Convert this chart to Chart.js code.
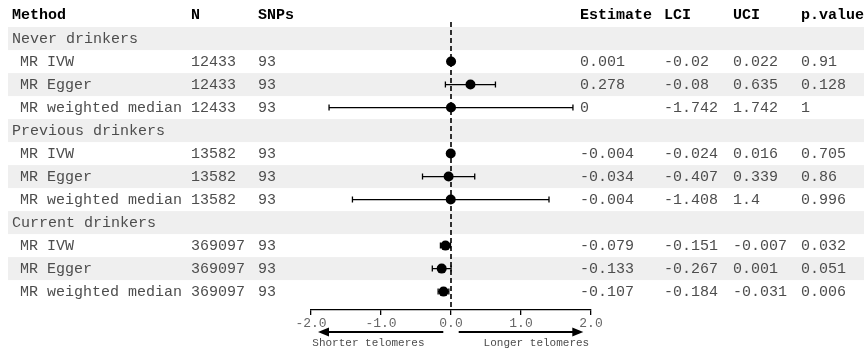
<!DOCTYPE html>
<html>
<head>
<meta charset="utf-8">
<script src="https://cdn.jsdelivr.net/npm/chart.js@4"></script>
<style>
  body { margin: 0; background: #fff; }
  #wrap { width: 864px; height: 351px; }
</style>
</head>
<body>
<div id="wrap"><canvas id="forest" width="864" height="351"></canvas></div>
<script>
// data
const groups = ['Never drinkers', 'Previous drinkers', 'Current drinkers'];
const methods = ['MR IVW', 'MR Egger', 'MR weighted median'];
const sampleN = [12433, 13582, 369097];
const snps = [93, 93, 93];
const estimate = [0.001, 0.278, 0, -0.004, -0.034, -0.004, -0.079, -0.133, -0.107];
const lci = [-0.02, -0.08, -1.742, -0.024, -0.407, -1.408, -0.151, -0.267, -0.184];
const uci = [0.022, 0.635, 1.742, 0.016, 0.339, 1.4, -0.007, 0.001, -0.031];
const pValue = [0.91, 0.128, 1, 0.705, 0.86, 0.996, 0.032, 0.051, 0.006];
const xTicks = [-2, -1, 0, 1, 2];
const headers = ['Method', 'N', 'SNPs', 'Estimate', 'LCI', 'UCI', 'p.value'];
const arrowLabels = ['Shorter telomeres', 'Longer telomeres'];

// row index for each estimate: group header row then 3 method rows
function rowOf(i) {
    let g = Math.floor(i / 3);
    return g * 4 + 1 + (i % 3);
}

const points = estimate.map((e, i) => ({ x: e, y: rowOf(i) }));

const colX = [12, 191, 258, 580, 664, 733, 801];
const mono = '"Liberation Mono", "DejaVu Sans Mono", monospace';
const textColor = '#4d4d4d';

// grey stripes behind every second row
const stripes = {
    id: 'stripes',
    beforeDraw(chart) {
        const ctx = chart.ctx;
        const y = chart.scales.y;
        const total = groups.length * 4;
        ctx.save();
        ctx.fillStyle = '#efefef';
        for (let r = 0; r < total; r += 2) {
            let top = y.getPixelForValue(r - 0.5);
            let bottom = y.getPixelForValue(r + 0.5);
            ctx.fillRect(8, top, chart.width - 8, bottom - top);
        }
        ctx.restore();
    }
};

// zero line and confidence intervals under the points
const whiskers = {
    id: 'whiskers',
    beforeDatasetsDraw(chart) {
        const ctx = chart.ctx;
        const x = chart.scales.x;
        const y = chart.scales.y;
        const area = chart.chartArea;
        ctx.save();
        ctx.strokeStyle = '#000';
        ctx.lineWidth = 1.6;
        ctx.setLineDash([5, 3]);
        ctx.beginPath();
        ctx.moveTo(x.getPixelForValue(0), area.top);
        ctx.lineTo(x.getPixelForValue(0), area.bottom);
        ctx.stroke();
        ctx.setLineDash([]);
        ctx.lineWidth = 1.3;
        estimate.forEach((e, i) => {
            let py = y.getPixelForValue(rowOf(i));
            let x1 = x.getPixelForValue(lci[i]);
            let x2 = x.getPixelForValue(uci[i]);
            ctx.beginPath();
            ctx.moveTo(x1, py);
            ctx.lineTo(x2, py);
            ctx.moveTo(x1, py - 3);
            ctx.lineTo(x1, py + 3);
            ctx.moveTo(x2, py - 3);
            ctx.lineTo(x2, py + 3);
            ctx.stroke();
        });
        ctx.restore();
    }
};

// table text and arrows under the axis
const table = {
    id: 'table',
    afterDraw(chart) {
        const ctx = chart.ctx;
        const x = chart.scales.x;
        const y = chart.scales.y;
        ctx.save();
        ctx.textBaseline = 'middle';
        ctx.textAlign = 'left';

        ctx.fillStyle = '#000';
        ctx.font = 'bold 15px ' + mono;
        headers.forEach((h, c) => ctx.fillText(h, colX[c], y.getPixelForValue(-1)));

        ctx.font = '15px ' + mono;
        ctx.fillStyle = textColor;
        groups.forEach((g, gi) => {
            ctx.fillText(g, colX[0], y.getPixelForValue(gi * 4));
        });
        estimate.forEach((e, i) => {
            let py = y.getPixelForValue(rowOf(i));
            let g = Math.floor(i / 3);
            ctx.fillText(methods[i % 3], colX[0] + 8, py);
            ctx.fillText(String(sampleN[g]), colX[1], py);
            ctx.fillText(String(snps[g]), colX[2], py);
            ctx.fillText(String(e), colX[3], py);
            ctx.fillText(String(lci[i]), colX[4], py);
            ctx.fillText(String(uci[i]), colX[5], py);
            ctx.fillText(String(pValue[i]), colX[6], py);
        });

        // direction arrows
        const ay = 332;
        ctx.strokeStyle = '#000';
        ctx.fillStyle = '#000';
        ctx.lineWidth = 2;
        function arrow(from, to) {
            let a = x.getPixelForValue(from);
            let b = x.getPixelForValue(to);
            let dir = Math.sign(b - a);
            ctx.beginPath();
            ctx.moveTo(a, ay);
            ctx.lineTo(b - dir * 8, ay);
            ctx.stroke();
            ctx.beginPath();
            ctx.moveTo(b, ay);
            ctx.lineTo(b - dir * 11, ay - 4.5);
            ctx.lineTo(b - dir * 11, ay + 4.5);
            ctx.closePath();
            ctx.fill();
        }
        arrow(-0.11, -1.9);
        arrow(0.11, 1.89);

        ctx.font = '11px ' + mono;
        ctx.fillStyle = textColor;
        ctx.textAlign = 'center';
        ctx.fillText(arrowLabels[0], x.getPixelForValue(-1.18), 343);
        ctx.fillText(arrowLabels[1], x.getPixelForValue(1.22), 343);
        ctx.restore();
    }
};

new Chart(
    document.getElementById('forest'),
    {
    type: 'scatter',
    data: {
        datasets: [{
            data: points,
            pointRadius: 5,
            pointHoverRadius: 5,
            backgroundColor: '#000',
            borderColor: '#000',
            borderWidth: 0
        }]
    },
    options: {
        responsive: false,
        animation: false,
        layout: {
            padding: { left: 311, right: 273, top: 22, bottom: 0 }
        },
        scales: {
            x: {
                type: 'linear',
                min: -2,
                max: 2,
                afterBuildTicks: (scale) => {
                    scale.ticks = xTicks.map(v => ({ value: v }));
                },
                afterFit: (scale) => {
                    scale.height = 41;
                },
                ticks: {
                    color: '#666',
                    padding: 1,
                    maxRotation: 0,
                    font: { family: mono, size: 13 },
                    callback: (v) => Number(v).toFixed(1)
                },
                grid: {
                    drawOnChartArea: false,
                    drawTicks: true,
                    tickLength: 5,
                    color: '#000',
                    lineWidth: 1.3
                },
                border: { color: '#000', width: 1.3 }
            },
            y: {
                type: 'linear',
                display: false,
                reverse: true,
                min: -0.72,
                max: 11.8
            }
        },
        plugins: {
            legend: { display: false },
            tooltip: { enabled: false }
        }
    },
    plugins: [stripes, whiskers, table]
});
</script>
</body>
</html>
